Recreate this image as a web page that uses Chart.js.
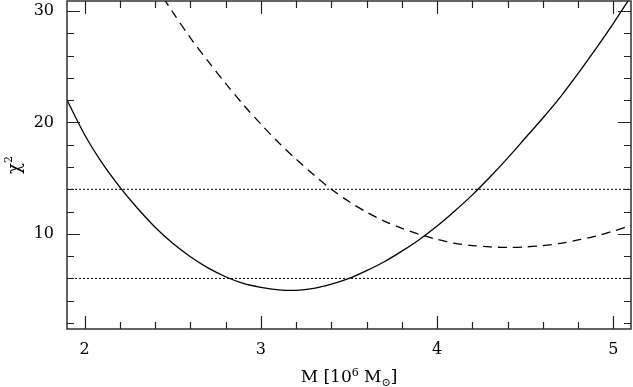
<!DOCTYPE html>
<html>
<head>
<meta charset="utf-8">
<script src="https://cdn.jsdelivr.net/npm/chart.js@4.4.1/dist/chart.umd.min.js"></script>
<style>
  html, body { margin: 0; padding: 0; background: #fff; }
  #wrap { width: 633px; height: 387px; }
</style>
</head>
<body>
<div id="wrap"><canvas id="chi2Chart"></canvas></div>
<script>
// Chi-square curves
const solidMass = [1.9, 2.0, 2.1, 2.2, 2.3, 2.4, 2.5, 2.6, 2.7, 2.8, 2.9, 3.0, 3.1, 3.2, 3.3, 3.4, 3.5, 3.6, 3.7, 3.8, 3.9, 4.0, 4.1, 4.2, 4.3, 4.4, 4.5, 4.6, 4.7, 4.8, 4.9, 5.0, 5.1];
const solidChi2 = [22.0, 18.9, 16.35, 14.2, 12.3, 10.6, 9.15, 7.95, 6.95, 6.15, 5.55, 5.2, 4.98, 4.93, 5.1, 5.48, 6.0, 6.7, 7.5, 8.45, 9.5, 10.7, 12.05, 13.5, 15.1, 16.8, 18.6, 20.4, 22.3, 24.4, 26.6, 28.9, 31.3];

const dashedMass = [2.4, 2.5, 2.6, 2.7, 2.8, 2.9, 3.0, 3.1, 3.2, 3.3, 3.4, 3.5, 3.6, 3.7, 3.8, 3.9, 4.0, 4.1, 4.2, 4.3, 4.4, 4.5, 4.6, 4.7, 4.8, 4.9, 5.0, 5.1];
const dashedChi2 = [32.3, 29.9, 27.6, 25.5, 23.5, 21.6, 19.85, 18.2, 16.7, 15.3, 14.0, 12.9, 11.95, 11.15, 10.5, 9.95, 9.5, 9.15, 8.95, 8.83, 8.78, 8.83, 8.95, 9.15, 9.45, 9.8, 10.25, 10.75];

// Horizontal confidence levels (dotted)
const levelValues = [6, 14];

// Axis ranges and labelled ticks
const xRange = [1.9, 5.1];
const yRange = [1.46, 30.9];
const xTickValues = [2, 3, 4, 5];
const yTickValues = [10, 20, 30];

const serif = 'DejaVu Serif';

// Build a dotted line dataset for each level
const levelDatasets = levelValues.map(v => ({
  data: [{ x: xRange[0], y: v }, { x: xRange[1], y: v }],
  borderColor: '#000',
  borderWidth: 1,
  borderDash: [2, 2],
  pointRadius: 0,
  showLine: true
}));

// Frame with inward ticks on all four sides, plus axis titles
const frameTicks = {
  id: 'frameTicks',
  afterDatasetsDraw(chart) {
    const { ctx, chartArea: a, scales: { x, y } } = chart;
    ctx.save();
    ctx.strokeStyle = '#222';
    ctx.lineWidth = 1.4;
    ctx.strokeRect(a.left, a.top, a.right - a.left, a.bottom - a.top);

    ctx.lineWidth = 1.2;
    ctx.beginPath();
    for (let k = 10; k <= 25; k++) {
      const v = k / 5;
      if (v < xRange[0] || v > xRange[1]) continue;
      const px = Math.round(x.getPixelForValue(v)) + 0.5;
      const len = k % 5 === 0 ? 13 : 7;
      ctx.moveTo(px, a.bottom); ctx.lineTo(px, a.bottom - len);
      ctx.moveTo(px, a.top); ctx.lineTo(px, a.top + len);
    }
    for (let k = 1; k <= 15; k++) {
      const v = k * 2;
      if (v < yRange[0] || v > yRange[1]) continue;
      const py = Math.round(y.getPixelForValue(v)) + 0.5;
      const len = v % 10 === 0 ? 13 : 7;
      ctx.moveTo(a.left, py); ctx.lineTo(a.left + len, py);
      ctx.moveTo(a.right, py); ctx.lineTo(a.right - len, py);
    }
    ctx.stroke();
    ctx.restore();
  },
  afterDraw(chart) {
    const { ctx, chartArea: a } = chart;
    ctx.save();
    ctx.fillStyle = '#000';
    ctx.textBaseline = 'alphabetic';

    // x title: M [10^6 M_sun]
    const big = '17px "' + serif + '"';
    const small = '11px "' + serif + '"';
    const parts = [
      { t: 'M [10', f: big, dy: 0 },
      { t: '6', f: small, dy: -6 },
      { t: ' M', f: big, dy: 0 },
      { t: '\u2299', f: small, dy: 4 },
      { t: ']', f: big, dy: 0 }
    ];
    let total = 0;
    parts.forEach(p => { ctx.font = p.f; p.w = ctx.measureText(p.t).width; total += p.w; });
    let cx = (a.left + a.right) / 2 - total / 2;
    parts.forEach(p => {
      ctx.font = p.f;
      ctx.fillText(p.t, cx, 382 + p.dy);
      cx += p.w;
    });

    // y title: chi^2, rotated
    const chiFont = '18px "' + serif + '"';
    ctx.translate(20, (a.top + a.bottom) / 2);
    ctx.rotate(-Math.PI / 2);
    ctx.font = chiFont;
    const wc = ctx.measureText('\u03c7').width;
    ctx.font = small;
    const w2 = ctx.measureText('2').width;
    const start = -(wc + w2) / 2;
    ctx.font = chiFont;
    ctx.fillText('\u03c7', start, 0);
    ctx.font = small;
    ctx.fillText('2', start + wc, -8);
    ctx.restore();
  }
};

new Chart(document.getElementById('chi2Chart'), {
  type: 'scatter',
  data: {
    datasets: [
      {
        data: solidMass.map((m, i) => ({ x: m, y: solidChi2[i] })),
        borderColor: '#000',
        borderWidth: 1.3,
        pointRadius: 0,
        showLine: true,
        tension: 0.3
      },
      {
        data: dashedMass.map((m, i) => ({ x: m, y: dashedChi2[i] })),
        borderColor: '#000',
        borderWidth: 1.3,
        borderDash: [9, 6],
        pointRadius: 0,
        showLine: true,
        tension: 0.3
      },
      ...levelDatasets
    ]
  },
  options: {
    responsive: true,
    maintainAspectRatio: false,
    animation: false,
    layout: { padding: { top: 1, right: 2, left: 0, bottom: 0 } },
    plugins: {
      legend: { display: false },
      tooltip: { enabled: false }
    },
    scales: {
      x: {
        type: 'linear',
        min: xRange[0],
        max: xRange[1],
        grid: { display: false, drawTicks: false },
        border: { display: false },
        afterBuildTicks: scale => { scale.ticks = xTickValues.map(v => ({ value: v })); },
        afterFit: scale => {
          scale.height = 58;
          scale.paddingLeft = 0;
          scale.paddingRight = 0;
        },
        ticks: {
          color: '#000',
          padding: 11,
          maxRotation: 0,
          font: { family: serif, size: 16 },
          callback: v => String(v)
        }
      },
      y: {
        type: 'linear',
        min: yRange[0],
        max: yRange[1],
        grid: { display: false, drawTicks: false },
        border: { display: false },
        afterBuildTicks: scale => { scale.ticks = yTickValues.map(v => ({ value: v })); },
        afterFit: scale => {
          scale.width = 67;
          scale.paddingTop = 0;
          scale.paddingBottom = 0;
        },
        ticks: {
          color: '#000',
          padding: 13,
          font: { family: serif, size: 16 },
          callback: v => String(v)
        }
      }
    }
  },
  plugins: [frameTicks]
});
</script>
</body>
</html>
